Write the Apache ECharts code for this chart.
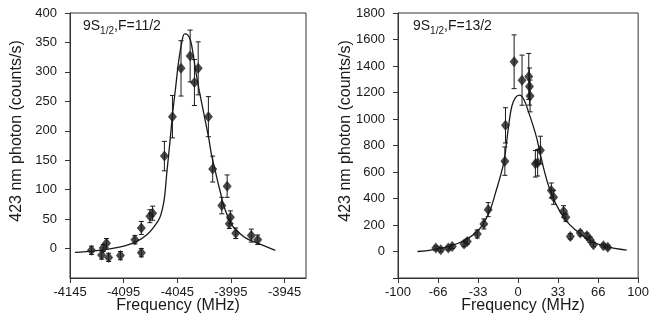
<!DOCTYPE html>
<html>
<head>
<meta charset="utf-8">
<script src="https://cdn.jsdelivr.net/npm/echarts@6/dist/echarts.min.js"></script>
<style>html,body{margin:0;padding:0;background:#fff}#c{width:652px;height:324px}</style>
</head>
<body>
<div id="c"></div>
<script>
// ---- Left panel: 9S1/2, F=11/2 ----
const leftFreq   = [-4125, -4115.5, -4114, -4111, -4109, -4098, -4084.5, -4078.5, -4078.5, -4070.5, -4068, -4057, -4049.5, -4041.5, -4033, -4029, -4025.5, -4016, -4012, -4003.5, -3998.5, -3996.5, -3995.5, -3990.5, -3976, -3970];
const leftCounts = [-3, -11, 1, 9, -15, -12, 15, 35, -7, 55, 60, 157, 224, 306, 327, 282, 306, 224, 135, 73, 106, 42, 53, 26, 22, 15];
const leftErr    = [7, 7, 6, 8, 7, 7, 7, 11, 7, 11, 12, 25, 36, 47, 44, 39, 45, 34, 22, 14, 19, 8, 11, 9, 11, 8];
const leftFitFreq   = [-4140.4, -4121.8, -4107.8, -4093.9, -4082.7, -4073.4, -4066, -4061.3, -4058.6, -4056.7, -4054.9, -4053, -4051.1, -4049.3, -4046.5, -4043.7, -4040.9, -4038.1, -4035.3, -4032.5, -4029.8, -4027, -4024.2, -4021.4, -4018.6, -4015.8, -4013.1, -4010.3, -4007.5, -4004.7, -4001.9, -3998.2, -3993.6, -3987.1, -3980.6, -3973.1, -3963.8, -3953.6];
const leftFitCounts = [-6.5, -3.9, -0.5, 4.6, 12.3, 23.4, 38.7, 52.4, 69.5, 89.9, 125.7, 159.8, 195.6, 229.7, 274, 318.3, 349, 364.5, 362.8, 352.4, 325.1, 292.7, 265.4, 239.8, 214.3, 188.7, 159.7, 137.5, 115.3, 94.8, 74.4, 55.6, 38.5, 26.6, 17.2, 11.4, 4.6, -3.0];
const leftXTicks = [-4145, -4095, -4045, -3995, -3945];
const leftYTicks = [0, 50, 100, 150, 200, 250, 300, 350, 400];

// ---- Right panel: 9S1/2, F=13/2 ----
const rightFreq   = [-68.5, -64.4, -58.1, -54.8, -45, -42.3, -34, -28.5, -24.9, -11, -10.5, -3.3, 3.3, 8.9, 9.5, 10, 14.4, 16.3, 18.6, 27.7, 29.6, 37.9, 39.8, 43.5, 51.8, 57.3, 60, 62.8, 71.1, 74.7];
const rightCounts = [26, 13, 26, 38, 56, 76, 132, 208, 316, 682, 952, 1432, 1293, 1321, 1245, 1174, 662, 670, 765, 460, 409, 303, 258, 114, 139, 119, 89, 51, 43, 33];
const rightErr    = [15, 15, 15, 15, 20, 20, 30, 38, 53, 107, 133, 203, 189, 174, 140, 120, 100, 100, 105, 57, 53, 43, 30, 20, 20, 20, 20, 15, 15, 15];
const rightFitFreq   = [-83.8, -71.4, -57.5, -43.7, -32.6, -24.3, -18.8, -11.9, -9.8, -7.7, -5.2, -2.2, 1.2, 4.7, 8.9, 13, 15.8, 19.9, 25.5, 31, 39.3, 47.6, 58.7, 72.5, 90.5];
const rightFitCounts = [0, 13, 38, 89, 164, 291, 442, 670, 808, 960, 1096, 1162, 1180, 1149, 1048, 935, 846, 680, 492, 367, 240, 164, 89, 38, 11];
const rightXTickLabels = ['-100', '-66', '-33', '0', '33', '66', '100'];
const rightYTicks = [0, 200, 400, 600, 800, 1000, 1200, 1400, 1600, 1800];

const FONT = '"Liberation Sans", Arial, Helvetica, sans-serif';
const INK = '#1a1a1a';

function zip3(a, b, c) { return a.map((v, i) => [v, b[i], c[i]]); }
function zip2(a, b) { return a.map((v, i) => [v, b[i]]); }

function errRender(params, api) {
  const x = api.value(0), y = api.value(1), e = api.value(2);
  const t = api.coord([x, y + e]);
  const b = api.coord([x, y - e]);
  const w = 2.5;
  const st = { stroke: INK, lineWidth: 1 };
  return {
    type: 'group',
    children: [
      { type: 'line', shape: { x1: t[0], y1: t[1], x2: b[0], y2: b[1] }, style: st },
      { type: 'line', shape: { x1: t[0] - w, y1: t[1], x2: t[0] + w, y2: t[1] }, style: st },
      { type: 'line', shape: { x1: b[0] - w, y1: b[1], x2: b[0] + w, y2: b[1] }, style: st }
    ]
  };
}

const axisLineStyle = { show: true, onZero: false, lineStyle: { color: '#333', width: 1 } };
const tickStyle = { show: true, inside: false, length: 5, lineStyle: { color: '#333', width: 1 } };
const labelBase = { color: INK, fontSize: 13, fontFamily: FONT, hideOverlap: false };

const chart = echarts.init(document.getElementById('c'), null, { renderer: 'canvas' });

const option = {
  animation: false,
  backgroundColor: '#fff',
  grid: [
    { left: 70, top: 13, width: 236, height: 265, show: true, borderColor: '#333', borderWidth: 1, backgroundColor: 'transparent' },
    { left: 398, top: 13, width: 241, height: 265, show: true, borderColor: '#333', borderWidth: 1, backgroundColor: 'transparent' }
  ],
  xAxis: [
    {
      gridIndex: 0, type: 'value', min: -4145, max: -3925,
      axisLine: axisLineStyle,
      axisTick: Object.assign({}, tickStyle, { customValues: leftXTicks }),
      axisLabel: Object.assign({}, labelBase, { margin: 8, customValues: leftXTicks, formatter: v => String(v) }),
      splitLine: { show: false }
    },
    {
      gridIndex: 1, type: 'value', min: -100, max: 100, interval: 100 / 3,
      axisLine: axisLineStyle,
      axisTick: tickStyle,
      axisLabel: Object.assign({}, labelBase, {
        margin: 8, showMinLabel: true, showMaxLabel: true,
        formatter: v => {
          const idx = Math.round((Number(v) + 100) / (100 / 3));
          return rightXTickLabels[Math.max(0, Math.min(rightXTickLabels.length - 1, idx))];
        }
      }),
      splitLine: { show: false }
    }
  ],
  yAxis: [
    {
      gridIndex: 0, type: 'value', min: -50, max: 400,
      axisLine: axisLineStyle,
      axisTick: Object.assign({}, tickStyle, { customValues: leftYTicks }),
      axisLabel: Object.assign({}, labelBase, { margin: 13, customValues: leftYTicks, formatter: v => String(v) }),
      splitLine: { show: false }
    },
    {
      gridIndex: 1, type: 'value', min: -200, max: 1800,
      axisLine: axisLineStyle,
      axisTick: Object.assign({}, tickStyle, { customValues: [-200].concat(rightYTicks) }),
      axisLabel: Object.assign({}, labelBase, { margin: 13, customValues: rightYTicks, formatter: v => String(v) }),
      splitLine: { show: false }
    }
  ],
  series: [
    {
      type: 'line', xAxisIndex: 0, yAxisIndex: 0,
      data: zip2(leftFitFreq, leftFitCounts),
      showSymbol: false, smooth: 0.4, clip: true,
      lineStyle: { color: INK, width: 1.3 }, z: 2
    },
    {
      type: 'custom', xAxisIndex: 0, yAxisIndex: 0,
      data: zip3(leftFreq, leftCounts, leftErr),
      renderItem: errRender, encode: { x: 0, y: 1 }, z: 3
    },
    {
      type: 'scatter', xAxisIndex: 0, yAxisIndex: 0,
      data: zip2(leftFreq, leftCounts),
      symbol: 'diamond', symbolSize: [9, 11],
      itemStyle: { color: INK }, z: 4
    },
    {
      type: 'line', xAxisIndex: 1, yAxisIndex: 1,
      data: zip2(rightFitFreq, rightFitCounts),
      showSymbol: false, smooth: 0.4, clip: true,
      lineStyle: { color: INK, width: 1.3 }, z: 2
    },
    {
      type: 'custom', xAxisIndex: 1, yAxisIndex: 1,
      data: zip3(rightFreq, rightCounts, rightErr),
      renderItem: errRender, encode: { x: 0, y: 1 }, z: 3
    },
    {
      type: 'scatter', xAxisIndex: 1, yAxisIndex: 1,
      data: zip2(rightFreq, rightCounts),
      symbol: 'diamond', symbolSize: [9, 11],
      itemStyle: { color: INK }, z: 4
    }
  ],
  graphic: [
    {
      type: 'text', x: 17, y: 131, rotation: Math.PI / 2,
      style: { text: '423 nm photon (counts/s)', fill: INK, font: '16px ' + FONT, align: 'center', verticalAlign: 'middle' }
    },
    {
      type: 'text', x: 346, y: 131, rotation: Math.PI / 2,
      style: { text: '423 nm photon (counts/s)', fill: INK, font: '16px ' + FONT, align: 'center', verticalAlign: 'middle' }
    },
    {
      type: 'text', x: 178, y: 306,
      style: { text: 'Frequency (MHz)', fill: INK, font: '16px ' + FONT, align: 'center', verticalAlign: 'middle' }
    },
    {
      type: 'text', x: 523, y: 306,
      style: { text: 'Frequency (MHz)', fill: INK, font: '16px ' + FONT, align: 'center', verticalAlign: 'middle' }
    },
    {
      type: 'text', x: 83, y: 16,
      style: {
        text: '{a|9S}{b|1/2}{a|,F=11/2}', fill: INK, align: 'left', verticalAlign: 'top',
        rich: {
          a: { fontSize: 14, fontFamily: FONT, color: INK, lineHeight: 20 },
          b: { fontSize: 10, fontFamily: FONT, color: INK, lineHeight: 10, verticalAlign: 'bottom' }
        }
      }
    },
    {
      type: 'text', x: 413, y: 16,
      style: {
        text: '{a|9S}{b|1/2}{a|,F=13/2}', fill: INK, align: 'left', verticalAlign: 'top',
        rich: {
          a: { fontSize: 14, fontFamily: FONT, color: INK, lineHeight: 20 },
          b: { fontSize: 10, fontFamily: FONT, color: INK, lineHeight: 10, verticalAlign: 'bottom' }
        }
      }
    }
  ]
};
chart.setOption(option);
</script>
</body>
</html>
